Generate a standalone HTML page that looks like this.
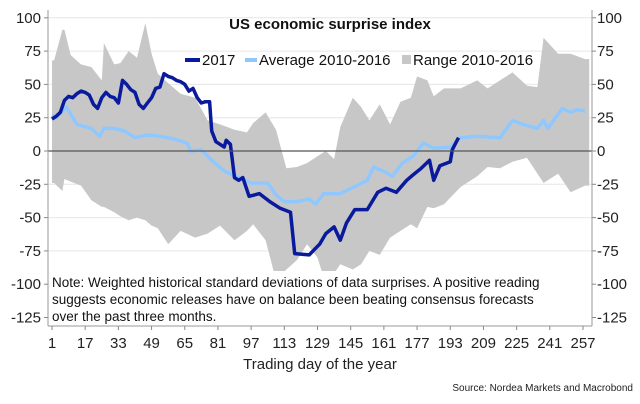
<!DOCTYPE html>
<html><head><meta charset="utf-8"><style>
body{margin:0;background:#fff;}
svg{display:block;font-family:"Liberation Sans",sans-serif;}
</style></head><body>
<svg id="chart" width="640" height="404" viewBox="0 0 640 404" xmlns="http://www.w3.org/2000/svg">
<g id="grid"></g>
<g id="range"></g>
<g id="lines"></g>
<rect x="49" y="271" width="542" height="54" fill="#fff"/>
<text font-size="13.5" fill="#111"><tspan x="52" y="287">Note: Weighted historical standard deviations of data surprises. A positive reading</tspan><tspan x="52" y="304">suggests economic releases have on balance been beating consensus forecasts</tspan><tspan x="52" y="321">over the past three months.</tspan></text>
<g id="axes"></g>
<text x="330" y="29" text-anchor="middle" font-size="15" font-weight="bold" fill="#111">US economic surprise index</text>
<g font-size="15" fill="#111">
<line x1="185" y1="60" x2="200" y2="60" stroke="#0a1a9c" stroke-width="4"/>
<text x="202" y="65">2017</text>
<line x1="245" y1="60" x2="257" y2="60" stroke="#8ec8ff" stroke-width="4"/>
<text x="259" y="65">Average 2010-2016</text>
<rect x="402" y="55" width="9" height="9" fill="#c8c7c8"/>
<text x="413" y="65">Range 2010-2016</text>
</g>
<text x="320" y="369" text-anchor="middle" font-size="15" fill="#222">Trading day of the year</text>
<text x="633" y="391" text-anchor="end" font-size="10" fill="#222">Source: Nordea Markets and Macrobond</text>
</svg>
<script>
const yTicks=[100,75,50,25,0,-25,-50,-75,-100,-125];
const xTicks=[1,17,33,49,65,81,97,113,129,145,161,177,193,209,225,241,257];
const days2017=[1,3,5,7,9,11,13,15,17,19,21,23,25,27,29,31,33,35,37,39,41,43,45,47,49,51,53,55,57,59,61,63,65,67,69,71,73,75,77,78,80,82,84,85,87,89,91,93,96,101,106,111,116,118,125,130,133,137,140,143,147,153,158,162,167,172,175,179,183,185,188,193,194,197];
const vals2017=[24,26,29,38,41,40,43,45,44,42,35,32,40,44,41,40,36,53,50,46,44,35,32,36,40,47,48,58,56,55,53,52,50,45,47,40,36,37,37,15,7,5,3,8,5,-20,-22,-20,-34,-32,-38,-43,-46,-77,-78,-70,-62,-57,-67,-54,-44,-44,-31,-28,-31,-22,-18,-13,-7,-22,-11,-8,1,10];
const daysAvg=[1,3,8,13,20,24,26,31,36,41,47,53,60,66,68,73,78,84,91,97,105,109,113,119,125,128,132,140,148,153,156,162,165,170,175,180,185,193,198,206,217,223,228,235,238,240,247,251,254,258];
const valsAvg=[27,25,33,20,17,11,17,17,15,10,12,11,9,6,0,1,-7,-15,-20,-24,-24,-33,-38,-38,-36,-40,-32,-32,-26,-22,-12,-16,-19,-9,-4,6,2,3,10,11,10,23,20,17,23,17,32,29,31,30];
const daysRange=[1,2,6,7,10,15,20,25,26,31,34,38,42,46,49,52,57,63,70,76,82,89,95,98,104,109,114,119,124,129,133,137,140,146,150,154,159,164,169,174,177,182,185,190,198,206,211,217,223,230,235,238,245,251,258,260];
const rangeHigh=[68,68,91,91,72,65,63,53,81,65,66,75,70,96,73,58,51,43,40,23,20,16,14,21,29,16,-13,-12,-9,-4,0,-6,18,40,33,23,35,20,37,40,56,53,41,47,47,53,47,53,59,49,48,85,73,73,69,69];
const rangeLow=[-24,-24,-30,-21,-23,-26,-37,-42,-42,-46,-49,-52,-50,-52,-56,-58,-70,-60,-65,-62,-56,-67,-60,-55,-67,-97,-89,-82,-70,-80,-100,-92,-85,-89,-85,-75,-78,-65,-60,-55,-58,-42,-43,-40,-27,-19,-12,-13,-8,-5,-17,-24,-17,-31,-26,-26];

const NS='http://www.w3.org/2000/svg';
const L=48,R=592,T=10,B=326;
const xs=d=>52+(d-1)*(583-52)/256;
const ys=v=>151-v*(133.2/100);
function mk(tag,attrs,parent){const e=document.createElementNS(NS,tag);for(const k in attrs)e.setAttribute(k,attrs[k]);parent.appendChild(e);return e;}
const grid=document.getElementById('grid'),axes=document.getElementById('axes'),rg=document.getElementById('range'),ln=document.getElementById('lines');
yTicks.forEach(v=>{
  const y=ys(v);
  const g=mk('line',{x1:L,x2:R,y1:y,y2:y,stroke:v===0?'#555':'#e6e6e6','stroke-width':v===0?1.2:1},v===0?axes:grid);
  
  
  const t1=mk('line',{x1:L-4,x2:L,y1:y,y2:y,stroke:'#888'},axes);
  
  
  const t2=mk('line',{x1:R,x2:R+4,y1:y,y2:y,stroke:'#888'},axes);
  
  
  const a=mk('text',{x:41,y:y+5,'text-anchor':'end','font-size':15,fill:'#222'},axes);a.textContent=v;
  
  
  const b=mk('text',{x:597,y:y+5,'font-size':15,fill:'#222'},axes);b.textContent=v;
  
  
});
[[L,T,L,B],[R,T,R,B],[L,B,R,B]].forEach(c=>{
  const e=mk('line',{x1:c[0],y1:c[1],x2:c[2],y2:c[3],stroke:'#999'},axes);
  
  
});
xTicks.forEach(d=>{
  const x=xs(d);
  const t=mk('line',{x1:x,x2:x,y1:B,y2:B+4,stroke:'#888'},axes);
  
  
  const e=mk('text',{x:x,y:348,'text-anchor':'middle','font-size':15,fill:'#222'},axes);e.textContent=d;
  
  
});
let p='';
daysRange.forEach((d,i)=>{p+=(i?'L':'M')+xs(d).toFixed(1)+','+ys(rangeHigh[i]).toFixed(1);});
for(let i=daysRange.length-1;i>=0;i--)p+='L'+xs(daysRange[i]).toFixed(1)+','+ys(rangeLow[i]).toFixed(1);
const band=mk('path',{d:p+'Z',fill:'#c8c7c8'},rg);


const avg=mk('polyline',{points:daysAvg.map((d,i)=>xs(d).toFixed(1)+','+ys(valsAvg[i]).toFixed(1)).join(' '),fill:'none',stroke:'#8ec8ff','stroke-width':3.5,'stroke-linejoin':'round'},ln);


const s17=mk('polyline',{points:days2017.map((d,i)=>xs(d).toFixed(1)+','+ys(vals2017[i]).toFixed(1)).join(' '),fill:'none',stroke:'#0a1a9c','stroke-width':3.5,'stroke-linejoin':'round'},ln);


</script>
</body></html>
